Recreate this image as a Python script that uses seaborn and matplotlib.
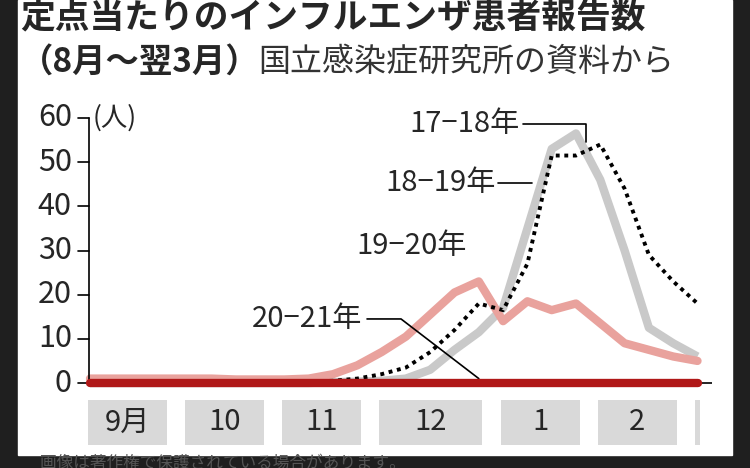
import matplotlib
matplotlib.use("Agg")
import matplotlib.pyplot as plt
import numpy as np
import pandas as pd
import seaborn as sns
from matplotlib.patches import Rectangle

# ============================================================
# Data (weekly, Sep week 1 .. early Mar)
# ============================================================
weeks = list(range(26))
s1718 = [0, 0, 0, 0, 0, 0, 0, 0, 0, 0, 0.2, 0.3, 0.5, 1, 3, 7.5, 11.5, 17, 35, 53, 56.5, 46, 30, 12.5, 9, 6]
s1819 = [0, 0, 0, 0, 0, 0, 0, 0, 0, 0.3, 0.5, 1, 2, 3.5, 7, 12, 18, 16.5, 27, 51.5, 51.5, 54, 44, 29, 23, 18]
s1920 = [1, 1, 1, 1, 1, 1, 0.8, 0.8, 0.8, 1, 2, 4, 7, 10.5, 15.5, 20.5, 23, 14, 18.5, 16.5, 18, 13.5, 9, 7.5, 6, 5]
s2021 = [0] * 26
month_labels = ["9月", "10", "11", "12", "1", "2", ""]
month_starts = [0, 4, 8, 12, 17, 21, 25]
yticks = [0, 10, 20, 30, 40, 50, 60]

df = pd.DataFrame({"week": weeks, "s1718": s1718, "s1819": s1819,
                   "s1920": s1920, "s2021": s2021})

sns.set_theme(style="white")
plt.rcParams["font.family"] = ["Noto Sans CJK JP", "DejaVu Sans"]
NUM = ["Liberation Sans Narrow", "Noto Sans CJK JP"]

W, H = 750, 468
fig = plt.figure(figsize=(7.5, 4.68), dpi=100)
fig.patch.set_facecolor("#1f1f1f")
fig.add_artist(Rectangle((18 / W, 13 / H), 714 / W, 455 / H,
                         transform=fig.transFigure, color="white", zorder=0))

# plot axes: x week -> px 90 + 24.3*w ; y 0 -> 383px, 60 -> 118px
l, r, t, b = 60, 712, 108, 395
ax = fig.add_axes([l / W, 1 - b / H, (r - l) / W, (b - t) / H])
ax.set_facecolor("none")
pxw = 24.3
ax.set_xlim(-(90 - l) / pxw, (r - 90) / pxw)
pxy = 265 / 60
ax.set_ylim(-(b - 383) / pxy, 60 + (118 - t) / pxy)

sns.lineplot(data=df, x="week", y="s1718", ax=ax, color="#c9c9c9", lw=6, solid_capstyle="butt")
sns.lineplot(data=df, x="week", y="s1920", ax=ax, color="#e9a29d", lw=6)
sns.lineplot(data=df, x="week", y="s1819", ax=ax, color="black", lw=2.8, linestyle=(0, (1, 1.2)))
ax.plot([-0.05, 25.8], [0, 0], color="black", lw=1.2, zorder=1)
sns.lineplot(data=df, x="week", y="s2021", ax=ax, color="#b01818", lw=6, zorder=5)

ax.plot([-0.05, -0.05], [0, 60], color="black", lw=1.2)
for v in yticks:
    ax.plot([-0.5, -0.05], [v, v], color="black", lw=1.2)
    ax.text(-0.75, v, str(v), ha="right", va="center", fontsize=22, family=NUM)
ax.text(0.1, 60, "(人)", ha="left", va="center", fontsize=19)

# month boxes (px 400..445)
y_top = -(400 - 383) / pxy
y_bot = -(445 - 383) / pxy
for i in range(len(month_starts)):
    s = month_starts[i]
    e = month_starts[i + 1] - 0.85 if i + 1 < len(month_starts) else 25.1
    ax.add_patch(Rectangle((s - 0.1, y_bot), e - s + 0.1, y_top - y_bot,
                           color="#d9d9d9", clip_on=False, lw=0))
    ax.text((s - 0.1 + e) / 2, (y_top + y_bot) / 2, month_labels[i], ha="center",
            va="center", fontsize=21, family=NUM)

# labels with leaders
lab = dict(fontsize=21, ha="right", va="center", family=NUM)
ax.text(17.7, 58.7, "17−18年", **lab)
ax.plot([17.8, 20.4, 20.4], [58.7, 58.7, 54.5], color="black", lw=1.2)
ax.text(16.7, 45.3, "18−19年", **lab)
ax.plot([16.8, 18.2], [45.3, 45.3], color="black", lw=1.2)
ax.text(15.5, 31, "19−20年", **lab)
ax.text(11.2, 14.5, "20−21年", **lab)
ax.plot([11.4, 12.8, 16.0], [14.5, 14.5, 1.0], color="black", lw=1.2)
ax.axis("off")

# title
fig.text(20 / W, 1 - 18 / H, "定点当たりのインフルエンザ患者報告数", fontsize=25,
         fontweight="bold", va="center", ha="left")
fig.text(20 / W, 1 - 62 / H, "（8月～翌3月）", fontsize=24, fontweight="bold",
         va="center", ha="left")
fig.text(258 / W, 1 - 62 / H, "国立感染症研究所の資料から", fontsize=23,
         color="#333333", va="center", ha="left")
fig.text(40 / W, 1 - 463 / H, "画像は著作権で保護されている場合があります。",
         fontsize=12, color="#555555", va="center", ha="left")

fig.savefig("out.png", dpi=100, facecolor=fig.get_facecolor())
